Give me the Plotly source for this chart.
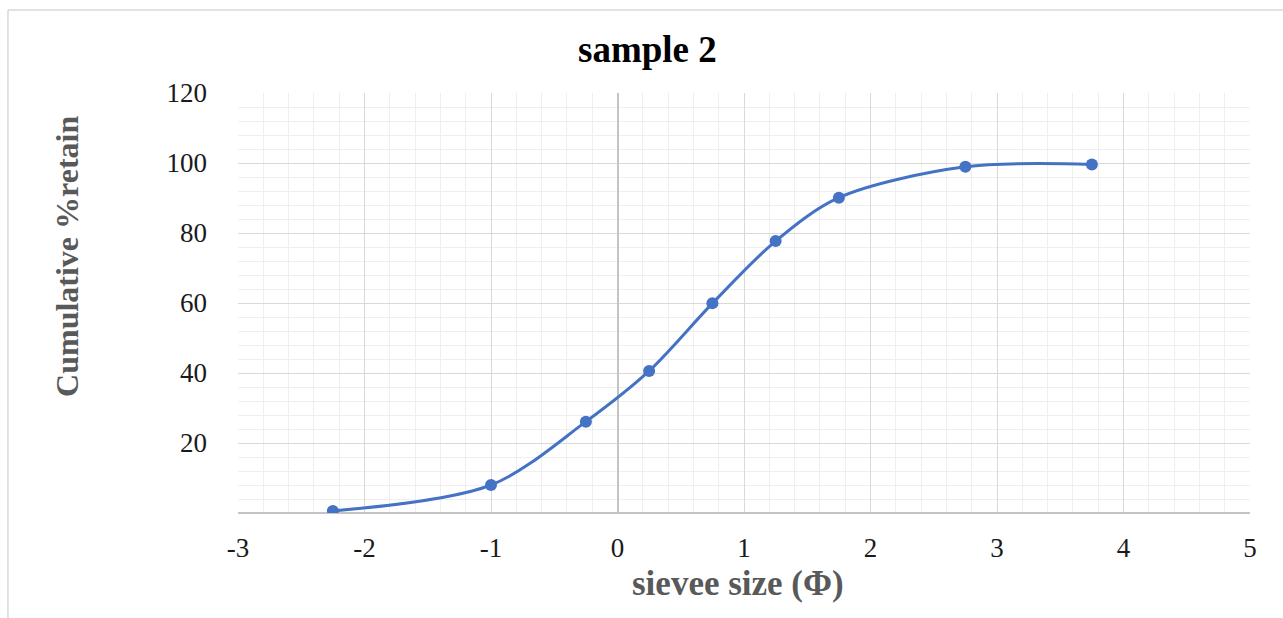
import plotly.graph_objects as go

# Data
phi_size = [-2.25, -1.0, -0.25, 0.25, 0.75, 1.25, 1.75, 2.75, 3.75]
cum_retain = [0.6, 8.0, 26.1, 40.6, 59.9, 77.7, 90.1, 98.9, 99.6]
x_ticks = [-3, -2, -1, 0, 1, 2, 3, 4, 5]
y_ticks = [20, 40, 60, 80, 100, 120]

chart_title = "sample 2"
x_title = "sievee size (Φ)"
y_title = "Cumulative %retain"

BLUE = "#4472C4"
SERIF = "Liberation Serif, Times New Roman, serif"

fig = go.Figure()
fig.add_trace(go.Scatter(
    x=phi_size, y=cum_retain,
    mode="lines+markers",
    line=dict(color=BLUE, width=3, shape="spline", smoothing=0.9),
    marker=dict(color=BLUE, size=12),
    showlegend=False,
    hoverinfo="x+y",
))

fig.update_layout(
    width=1283, height=618,
    margin=dict(l=238, r=33, t=93, b=105),
    paper_bgcolor="white",
    plot_bgcolor="white",
    font=dict(family=SERIF, color="#1a1a1a"),
)

fig.update_xaxes(
    range=[-3, 5],
    tickvals=x_ticks,
    ticktext=[str(v) for v in x_ticks],
    tickfont=dict(family=SERIF, size=27, color="#1a1a1a"),
    ticklabelstandoff=16,
    showgrid=True, gridcolor="#d9d9d9", gridwidth=1,
    minor=dict(dtick=0.2, showgrid=True, gridcolor="#efefef", gridwidth=1),
    zeroline=True, zerolinecolor="#c4c4c4", zerolinewidth=1.5,
    showline=False,
    ticks="",
    fixedrange=True,
)
fig.update_yaxes(
    range=[0, 120],
    tickvals=y_ticks,
    ticktext=[str(v) for v in y_ticks],
    tickfont=dict(family=SERIF, size=27, color="#1a1a1a"),
    ticklabelstandoff=30,
    showgrid=True, gridcolor="#d9d9d9", gridwidth=1,
    minor=dict(dtick=4, showgrid=True, gridcolor="#efefef", gridwidth=1),
    zeroline=True, zerolinecolor="#c4c4c4", zerolinewidth=1.5,
    showline=False,
    ticks="",
    fixedrange=True,
)

fig.add_annotation(
    text=chart_title, xref="paper", yref="paper",
    x=0.405, y=1.1024, xanchor="center", yanchor="middle",
    showarrow=False,
    font=dict(family=SERIF, size=37, color="#000000", weight="bold"),
)
fig.add_annotation(
    text=y_title, xref="paper", yref="paper",
    x=-0.169, y=0.612, xanchor="center", yanchor="middle",
    textangle=-90, showarrow=False,
    font=dict(family=SERIF, size=32, color="#595959", weight="bold"),
)
fig.add_annotation(
    text=x_title, xref="paper", yref="paper",
    x=0.494, y=-0.167, xanchor="center", yanchor="middle",
    showarrow=False,
    font=dict(family=SERIF, size=35, color="#595959", weight="bold"),
)

# Chart-area frame (left and top edges visible in the reference)
fig.add_shape(type="line", xref="paper", yref="paper",
              x0=-0.2273, x1=-0.2273, y0=1.1976, y1=-0.26,
              line=dict(color="#d9d9d9", width=1.5))
fig.add_shape(type="line", xref="paper", yref="paper",
              x0=-0.2273, x1=1.04, y0=1.1976, y1=1.1976,
              line=dict(color="#d9d9d9", width=1.5))

fig.write_html("out.html")
